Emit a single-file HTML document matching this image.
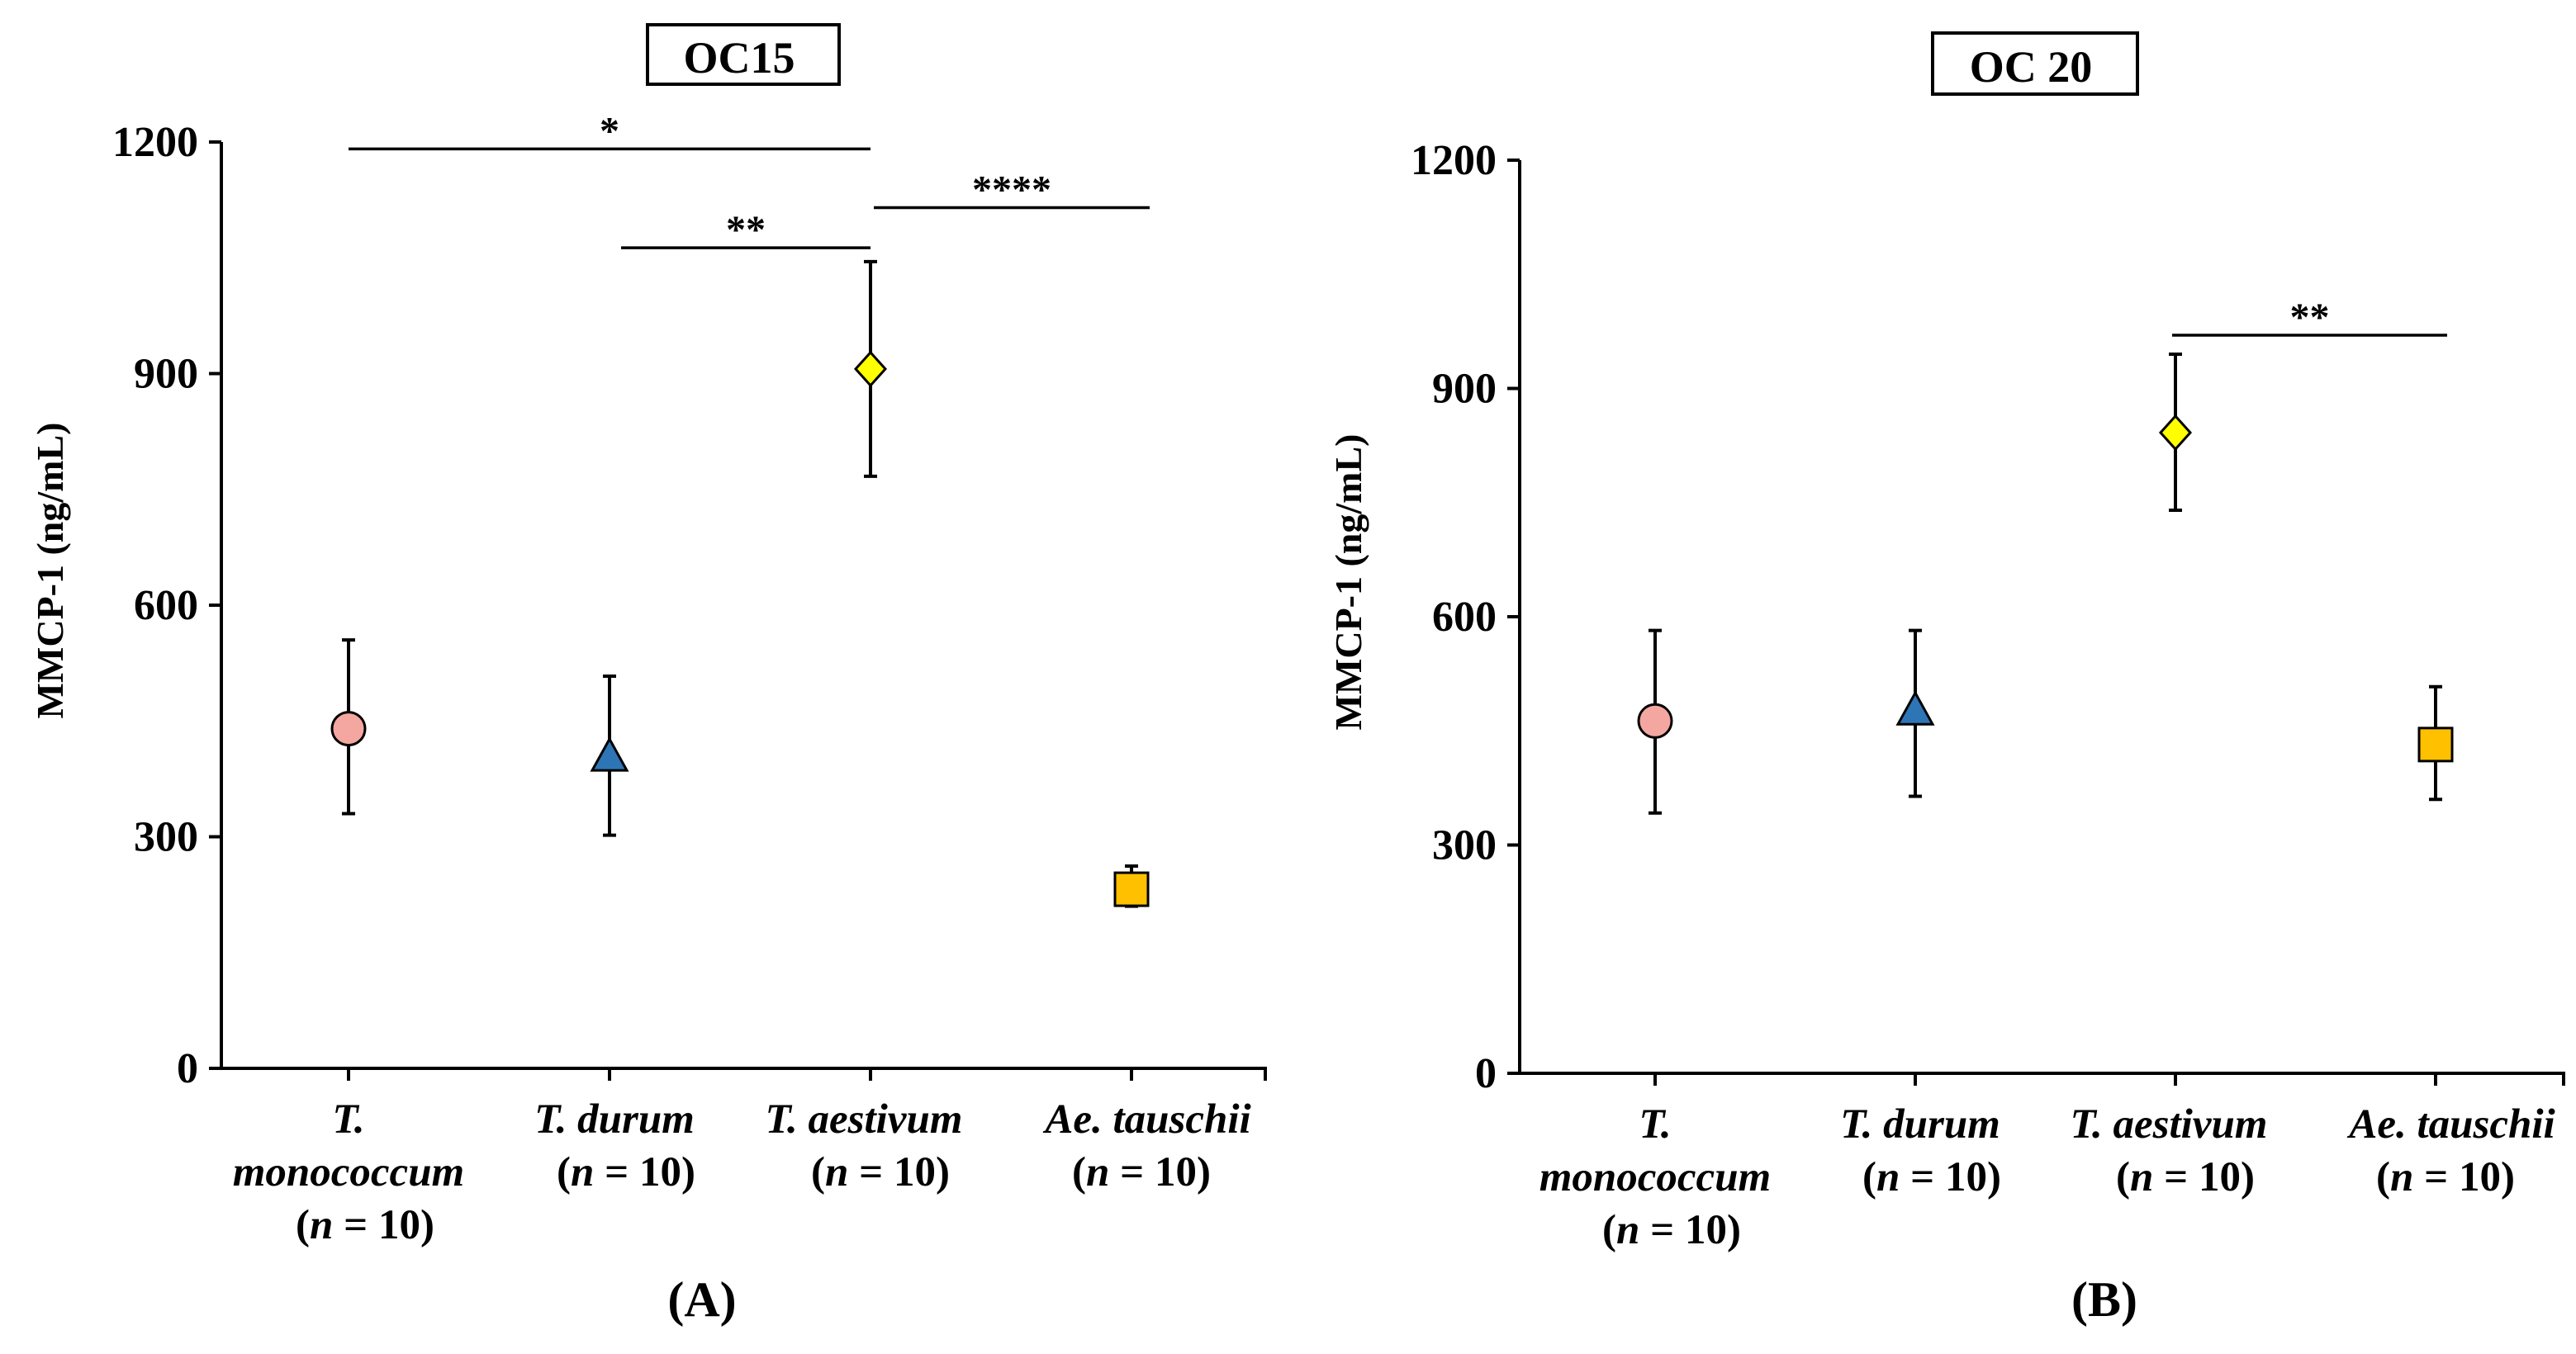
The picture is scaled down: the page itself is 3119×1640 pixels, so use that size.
<!DOCTYPE html>
<html><head><meta charset="utf-8"><style>
html,body{margin:0;padding:0;background:#fff}
svg{display:block;font-family:"Liberation Serif",serif;font-weight:bold}
</style></head><body>
<svg id="fig" width="3119" height="1640" viewBox="0 0 3119 1640" xmlns="http://www.w3.org/2000/svg"></svg>
<script>
const categories = ["T. monococcum","T. durum","T. aestivum","Ae. tauschii"];
const yTicks = [0,300,600,900,1200];
const meansA = [440,402,906,232];
const lowA = [330,302,767,210];
const highA = [555,508,1045,262];
const meansB = [463,475,842,432];
const lowB = [342,364,740,360];
const highB = [582,582,945,508];
const sigA = [[0,2,1191,"*"],[1,2,1063,"**"],[2,3,1115,"****"]];
const sigB = [[2,3,970,"**"]];

const NS="http://www.w3.org/2000/svg";
const svg=document.getElementById('fig');
function mk(tag,attrs,parent){const e=document.createElementNS(NS,tag);for(const k in attrs)e.setAttribute(k,attrs[k]);(parent||svg).appendChild(e);return e;}
const colors=["#f4a7a0","#2e75b6","#ffff00","#ffc000"];
const shapes=["circle","triangle","diamond","square"];
const l1Off=[0,6,-8,20], nOff=[20,20,12,12];

function panel(cfg){
  const g=mk('g',{});
  
  
  const y=v=>cfg.y0-(v/1200)*(cfg.y0-cfg.y1200);
  const x=i=>cfg.cx0+i*cfg.dx;
  const ya=mk('line',{x1:cfg.ax,y1:y(1200),x2:cfg.ax,y2:cfg.y0,stroke:'#000','stroke-width':4},g);
  
  const xa=mk('line',{x1:cfg.ax-15,y1:cfg.y0,x2:cfg.xend,y2:cfg.y0,stroke:'#000','stroke-width':4},g);
  
  yTicks.forEach(t=>{
    mk('line',{x1:cfg.ax-15,y1:y(t),x2:cfg.ax,y2:y(t),stroke:'#000','stroke-width':4},g);
    const tx=mk('text',{x:cfg.ax-28,y:y(t)+17,'text-anchor':'end','font-size':52},g);
    tx.textContent=t;
    
  });
  categories.forEach((c,i)=>{
    mk('line',{x1:x(i),y1:cfg.y0,x2:x(i),y2:cfg.y0+15,stroke:'#000','stroke-width':4},g);
  });
  mk('line',{x1:cfg.xend-2,y1:cfg.y0,x2:cfg.xend-2,y2:cfg.y0+15,stroke:'#000','stroke-width':4},g);
  const lab=[["T.","monococcum"],["T. durum"],["T. aestivum"],["Ae. tauschii"]];
  lab.forEach((lines,i)=>{
    lines.forEach((s,k)=>{
      const t=mk('text',{x:x(i)+l1Off[i],y:cfg.y0+78+k*64,'text-anchor':'middle','font-size':51,'font-style':'italic'},g);
      t.textContent=s;
      
    });
    const t=mk('text',{x:x(i)+nOff[i],y:cfg.y0+78+lines.length*64,'text-anchor':'middle','font-size':51},g);
    t.innerHTML='(<tspan font-style="italic">n</tspan> = 10)';
    
  });
  const yt=mk('text',{x:0,y:0,'text-anchor':'middle','font-size':46,transform:`translate(${cfg.ax-192},${(y(0)+y(1200))/2-42}) rotate(-90)`},g);
  yt.textContent="MMCP-1 (ng/mL)";
  
  const tb=mk('rect',{x:cfg.box[0],y:cfg.box[1],width:cfg.box[2],height:cfg.box[3],fill:'#fff',stroke:'#000','stroke-width':4},g);
  
  const tt=mk('text',{x:cfg.box[0]+cfg.box[2]/2-5,y:cfg.box[1]+cfg.box[3]/2+22,'text-anchor':'middle','font-size':54},g);
  tt.textContent=cfg.title;
  
  const pl=mk('text',{x:cfg.letter[0],y:cfg.letter[1],'text-anchor':'middle','font-size':60},g);
  pl.textContent=cfg.letterText;
  
  cfg.sig.forEach(s=>{
    const x1=x(s[0])+(s[0]==1?14:(s[0]==2?cfg.sigStart:0)), x2=x(s[1])+(s[1]==3?cfg.sigEnd:0);
    const l=mk('line',{x1:x1,y1:y(s[2]),x2:x2,y2:y(s[2]),stroke:'#000','stroke-width':3.5},g);
    
    const t=mk('text',{x:(x1+x2)/2,y:y(s[2])-6,'text-anchor':'middle','font-size':48},g);
    t.textContent=s[3];
    
  });
  cfg.means.forEach((m,i)=>{
    const cx=x(i);
    const eb=mk('path',{d:`M${cx},${y(cfg.low[i])}V${y(cfg.high[i])}M${cx-8},${y(cfg.low[i])}h16M${cx-8},${y(cfg.high[i])}h16`,stroke:'#000','stroke-width':4,fill:'none'},g);
    
    const cy=y(m);let p;
    if(shapes[i]=='circle')p=mk('circle',{cx:cx,cy:cy,r:20},g);
    else if(shapes[i]=='triangle')p=mk('path',{d:`M${cx},${cy-23}L${cx+21},${cy+15}L${cx-21},${cy+15}Z`},g);
    else if(shapes[i]=='diamond')p=mk('path',{d:`M${cx},${cy-20}L${cx+18},${cy}L${cx},${cy+20}L${cx-18},${cy}Z`},g);
    else p=mk('rect',{x:cx-20,y:cy-20,width:40,height:40},g);
    p.setAttribute('fill',colors[i]);p.setAttribute('stroke','#000');p.setAttribute('stroke-width',3);
    
  });
}
panel({name:'panel-a',ax:268,y0:1294,y1200:172,cx0:422,dx:316,xend:1534,means:meansA,low:lowA,high:highA,sig:sigA,sigStart:4,sigEnd:22,title:'OC15',box:[784,30,232,72],letter:[850,1594],letterText:'(A)'});
panel({name:'panel-b',ax:1840,y0:1300,y1200:194,cx0:2004,dx:315,xend:3106,means:meansB,low:lowB,high:highB,sig:sigB,sigStart:-4,sigEnd:14,title:'OC 20',box:[2340,40,248,74],letter:[2548,1594],letterText:'(B)'});
</script>
</body></html>
